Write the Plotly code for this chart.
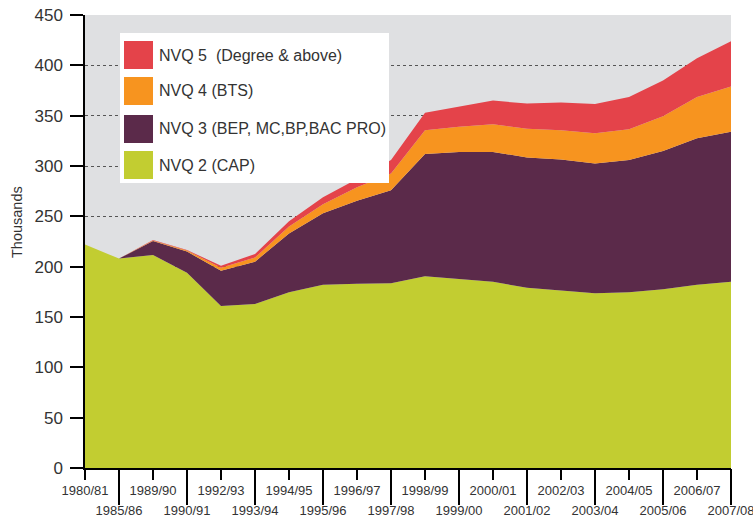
import plotly.graph_objects as go

# ---- data (thousands) ----
years = ["1980/81", "1985/86", "1989/90", "1990/91", "1992/93", "1993/94", "1994/95",
         "1995/96", "1996/97", "1997/98", "1998/99", "1999/00", "2000/01", "2001/02",
         "2002/03", "2003/04", "2004/05", "2005/06", "2006/07", "2007/08"]
nvq2 = [222, 208, 211.5, 194, 161, 163, 174.5, 182, 183, 183.5, 190.5, 187.5, 185, 179,
        176, 173.5, 174.5, 177.5, 182, 185]
nvq3 = [0, 0, 14, 21, 35, 42, 58.5, 71, 82.5, 92.5, 121.5, 126.5, 129, 129.5, 130.5,
        129, 131.5, 137.5, 145.5, 149]
nvq4 = [0, 0, 0.5, 1, 3, 4, 7, 9, 13.5, 16.5, 23.5, 25, 27.5, 28.5, 29, 30, 30.5,
        34.5, 41, 45]
nvq5 = [0, 0, 0.5, 0.5, 2, 3.5, 5, 7, 8, 13.5, 17.5, 20, 23.5, 25, 27.5, 29, 32, 35.5,
        38.5, 45]

series_names = ["NVQ 2 (CAP)", "NVQ 3 (BEP, MC,BP,BAC PRO)", "NVQ 4 (BTS)",
                "NVQ 5 \u00a0(Degree & above)"]
series_vals = [nvq2, nvq3, nvq4, nvq5]
colors = ["#C2CD31", "#5B2A4A", "#F7941F", "#E4434A"]
y_ticks = list(range(0, 451, 50))
y_title = "Thousands"

FONT = "Liberation Sans, Arial, Helvetica, sans-serif"
TXT = "#333333"
W, H = 753, 517
ML, MR, MT, MB = 85, 22, 15, 49
PW, PH = W - ML - MR, H - MT - MB


def px_x(p):
    return (p - ML) / PW


def px_y(p):
    return (H - MB - p) / PH


fig = go.Figure()
for name, vals, col in zip(series_names, series_vals, colors):
    fig.add_trace(go.Scatter(
        x=years, y=vals, name=name, mode="lines", stackgroup="one",
        line=dict(width=0, color=col), fillcolor=col, showlegend=False,
        hoverinfo="x+y+name"))

idx_all = list(range(len(years)))
even_idx = idx_all[0::2]
odd_idx = idx_all[1::2]

# empty helper trace so that the second (long-tick) x axis is drawn
fig.add_trace(go.Scatter(x=odd_idx, y=[None] * len(odd_idx), xaxis="x2", yaxis="y",
                         mode="lines", showlegend=False, hoverinfo="skip"))

shapes = []
annotations = []
# manual legend
shapes.append(dict(type="rect", xref="paper", yref="paper", layer="above",
                   x0=px_x(120), x1=px_x(389), y0=px_y(183), y1=px_y(33),
                   fillcolor="white", line=dict(width=0)))
legend_rows = [(41, 69, 3), (77, 105, 2), (115, 143, 1), (151, 179, 0)]
for top, bot, idx in legend_rows:
    shapes.append(dict(type="rect", xref="paper", yref="paper", layer="above",
                       x0=px_x(124), x1=px_x(153), y0=px_y(bot), y1=px_y(top),
                       fillcolor=colors[idx], line=dict(width=0)))
    annotations.append(dict(xref="paper", yref="paper", x=px_x(157),
                            y=px_y((top + bot) / 2), xanchor="left", yanchor="middle",
                            text=series_names[idx], showarrow=False,
                            font=dict(family=FONT, size=16, color=TXT)))
# y-axis title
annotations.append(dict(xref="paper", yref="paper", x=px_x(17), y=px_y(222),
                        xanchor="center", yanchor="middle", textangle=-90,
                        text=y_title, showarrow=False,
                        font=dict(family=FONT, size=14.5, color=TXT)))

fig.update_layout(
    width=W, height=H,
    margin=dict(l=ML, r=MR, t=MT, b=MB, pad=0, autoexpand=False),
    paper_bgcolor="white", plot_bgcolor="#DFE0E2",
    font=dict(family=FONT, color=TXT),
    shapes=shapes, annotations=annotations,
    xaxis=dict(type="category", categoryorder="array", categoryarray=years,
               range=[0, len(years) - 1], tickmode="array",
               tickvals=[years[i] for i in even_idx],
               ticktext=[years[i] for i in even_idx],
               ticks="outside", ticklen=10, tickwidth=1.5,
               tickcolor="black", showline=True, linecolor="black", linewidth=1.5,
               showgrid=False, zeroline=False, tickangle=0, automargin=False,
               ticklabeloverflow="allow",
               tickfont=dict(family=FONT, size=13, color=TXT)),
    xaxis2=dict(type="linear", overlaying="x", anchor="y", side="bottom",
                range=[0, len(years) - 1], tickmode="array", tickvals=odd_idx,
                ticktext=[years[i] for i in odd_idx], ticks="outside", ticklen=36,
                tickwidth=1.5, tickcolor="black", showline=False, showgrid=False,
                zeroline=False, tickangle=0, automargin=False,
                ticklabelstandoff=-6, ticklabeloverflow="allow",
                tickfont=dict(family=FONT, size=13, color=TXT)),
    yaxis=dict(range=[0, 450], tickmode="array", tickvals=y_ticks, ticks="outside",
               ticklen=13, tickwidth=1.5, tickcolor="black", showline=True,
               linecolor="black", linewidth=1.5, showgrid=True, gridcolor="#555555",
               gridwidth=1, griddash="3px,3px", zeroline=False, automargin=False,
               ticklabelstandoff=4,
               tickfont=dict(family=FONT, size=17, color=TXT)),
)

fig.write_html("out.html", config={"displayModeBar": False},
               post_script="document.body.style.margin='0';"
                           "document.body.style.padding='0';")
